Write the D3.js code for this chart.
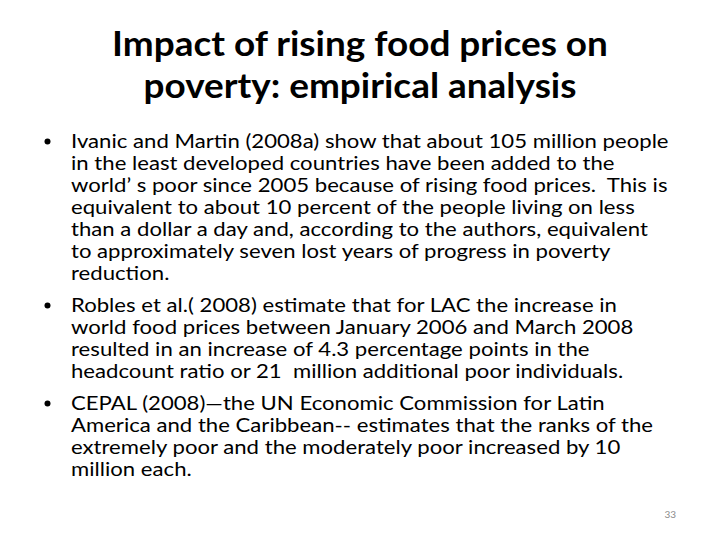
<!DOCTYPE html>
<html>
<head>
<meta charset="utf-8">
<script src="https://cdn.jsdelivr.net/npm/d3@7"></script>
<style>
  html, body { margin: 0; padding: 0; background: #ffffff; }
  svg { display: block; }
  svg text { white-space: pre; }
</style>
</head>
<body>
<div id="chart"></div>
<script>
// ---- content ----
const titleLines = [
  "Impact of rising food prices on",
  "poverty: empirical analysis"
];
const paragraph1 = [
  "Ivanic and Martin (2008a) show that about 105 million people",
  "in the least developed countries have been added to the",
  "world\u2019 s poor since 2005 because of rising food prices.  This is",
  "equivalent to about 10 percent of the people living on less",
  "than a dollar a day and, according to the authors, equivalent",
  "to approximately seven lost years of progress in poverty",
  "reduction."
];
const paragraph2 = [
  "Robles et al.( 2008) estimate that for LAC the increase in",
  "world food prices between January 2006 and March 2008",
  "resulted in an increase of 4.3 percentage points in the",
  "headcount ratio or 21  million additional poor individuals."
];
const paragraph3 = [
  "CEPAL (2008)\u2014the UN Economic Commission for Latin",
  "America and the Caribbean-- estimates that the ranks of the",
  "extremely poor and the moderately poor increased by 10",
  "million each."
];
const paragraphs = [paragraph1, paragraph2, paragraph3];
const pageNumber = "33";

// ---- layout ----
const W = 720, H = 540;
const svg = d3.select("#chart").append("svg")
  .attr("width", W).attr("height", H)
  .style("font-family", "Lato, 'Open Sans', sans-serif");

svg.append("rect").attr("width", W).attr("height", H).attr("fill", "#ffffff");

// title
const titleY = d3.scaleLinear().domain([0, 1]).range([56, 98]);
const titleG = svg.append("g");
const titleTexts = titleG.selectAll("text").data(titleLines).join("text")
  .attr("text-anchor", "middle")
  .attr("font-weight", 700)
  .attr("font-size", 35)
  .attr("fill", "#000000")
  .text(d => d);
const tNat = titleTexts.nodes()[0].getComputedTextLength();
const tScale = 496 / tNat;
titleTexts.attr("transform", (d, i) => `translate(360,${titleY(i)}) scale(${tScale},1)`);

// body
const lineStep = 22, paraGap = 32;
const rows = [];
let y0 = 148;
paragraphs.forEach((p, pi) => {
  p.forEach((line, li) => {
    rows.push({ text: line, bullet: li === 0, y: y0 });
    if (li < p.length - 1) y0 += lineStep;
  });
  y0 += paraGap;
});

const bodyG = svg.append("g");
const bodyTexts = bodyG.selectAll("text.line").data(rows).join("text")
  .attr("class", "line")
  .attr("font-size", 19)
  .attr("fill", "#000000")
  .text(d => d.text);
const bNat = bodyTexts.nodes()[0].getComputedTextLength();
const bScale = 598 / bNat;
bodyTexts.attr("transform", d => `translate(71,${d.y}) scale(${bScale},1)`);

bodyG.selectAll("circle.bullet").data(rows.filter(r => r.bullet)).join("circle")
  .attr("class", "bullet")
  .attr("cx", 47.5)
  .attr("cy", d => d.y - 6.5)
  .attr("r", 3)
  .attr("fill", "#000000");

// page number
svg.append("text")
  .attr("x", 676).attr("y", 518)
  .attr("text-anchor", "end")
  .attr("font-size", 10)
  .attr("fill", "#8b8b8b")
  .text(pageNumber);
</script>
</body>
</html>
